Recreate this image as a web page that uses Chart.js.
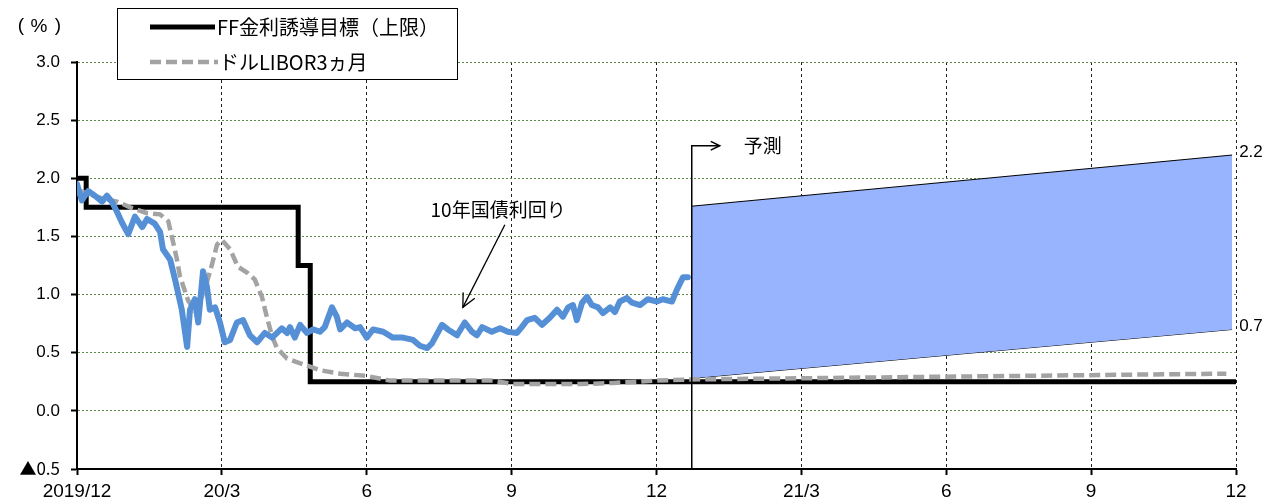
<!DOCTYPE html>
<html lang="ja">
<head>
  <meta charset="UTF-8">
  <title>米国金利の推移と予測</title>
  <script src="https://cdn.jsdelivr.net/npm/chart.js"></script>
  <style>
    body { margin: 0; background: #fff; }
    #rateChart { display: block; }
  </style>
</head>
<body>
  <canvas id="rateChart" width="1279" height="502"></canvas>
  <script>
    // 横軸は 2019/12 からの経過月数（0〜24）
    const xTickLabels = ['2019/12', '20/3', '6', '9', '12', '21/3', '6', '9', '12'];

    // 10年国債利回り
    const yieldMonth = [0.00, 0.10, 0.23, 0.37, 0.52, 0.62, 0.72, 0.83, 0.93, 1.06, 1.20, 1.35, 1.45, 1.61, 1.72,
      1.78, 1.93, 2.03, 2.09, 2.17, 2.28, 2.34, 2.44, 2.51, 2.61, 2.69, 2.75, 2.86, 2.96, 3.06, 3.17, 3.31,
      3.44, 3.58, 3.73, 3.89, 4.04, 4.24, 4.35, 4.41, 4.51, 4.62, 4.76, 4.89, 5.03, 5.13, 5.28, 5.38, 5.45,
      5.59, 5.76, 5.86, 6.00, 6.13, 6.34, 6.54, 6.75, 6.96, 7.10, 7.25, 7.35, 7.56, 7.68, 7.87, 8.03, 8.18,
      8.28, 8.39, 8.59, 8.76, 8.92, 9.11, 9.21, 9.32, 9.48, 9.63, 9.79, 9.94, 10.06, 10.17, 10.27, 10.35,
      10.46, 10.56, 10.66, 10.79, 10.89, 11.04, 11.14, 11.24, 11.39, 11.49, 11.66, 11.82, 12.01, 12.13,
      12.32, 12.42, 12.55, 12.65];
    const yieldRate = [1.95, 1.81, 1.89, 1.85, 1.80, 1.85, 1.80, 1.71, 1.62, 1.52, 1.67, 1.58, 1.65, 1.61, 1.54,
      1.39, 1.30, 1.13, 1.02, 0.87, 0.55, 0.87, 0.96, 0.76, 1.20, 1.07, 0.87, 0.89, 0.76, 0.59, 0.61, 0.76,
      0.78, 0.65, 0.59, 0.67, 0.63, 0.71, 0.67, 0.72, 0.63, 0.74, 0.67, 0.70, 0.68, 0.72, 0.89, 0.81, 0.70,
      0.76, 0.71, 0.72, 0.63, 0.70, 0.68, 0.63, 0.63, 0.61, 0.56, 0.54, 0.58, 0.74, 0.70, 0.65, 0.76, 0.68,
      0.65, 0.72, 0.68, 0.71, 0.68, 0.67, 0.72, 0.78, 0.80, 0.74, 0.80, 0.87, 0.81, 0.89, 0.91, 0.78,
      0.93, 0.98, 0.91, 0.89, 0.84, 0.89, 0.85, 0.94, 0.97, 0.93, 0.91, 0.96, 0.94, 0.96,
      0.94, 1.04, 1.15, 1.15];

    // ドルLIBOR3ヵ月（最後の点は予測）
    const liborMonth = [0, 0.27, 0.58, 0.83, 1.10, 1.45, 1.72, 1.89, 1.99, 2.07, 2.13, 2.30, 2.46, 2.65, 2.79,
      2.90, 3.00, 3.17, 3.33, 3.52, 3.68, 3.83, 3.93, 4.04, 4.14, 4.35, 4.55, 5.03, 5.45, 6.00, 6.48, 7.10,
      7.66, 8.61, 9.03, 9.73, 10.41, 11.10, 12.01, 12.69, 23.80];
    const liborRate = [1.90, 1.86, 1.82, 1.80, 1.75, 1.70, 1.69, 1.63, 1.45, 1.30, 1.16, 0.95, 0.85, 1.05, 1.25,
      1.43, 1.47, 1.39, 1.24, 1.19, 1.13, 0.98, 0.81, 0.64, 0.54, 0.45, 0.42, 0.35, 0.32, 0.30, 0.26, 0.26,
      0.26, 0.26, 0.23, 0.23, 0.23, 0.24, 0.26, 0.27, 0.32];

    // FF金利誘導目標（上限）: 変更時点とその水準
    const ffMonth = [0, 0.19, 4.58, 4.83, 24];
    const ffRate = [2.00, 1.75, 1.25, 0.25, 0.25];

    // 10年国債利回りの予測レンジ
    const bandMonth = [12.73, 23.92];
    const bandHigh = [1.76, 2.2];
    const bandLow = [0.28, 0.7];

    const forecastStart = 12.73;
    const forecastArrowLevel = 2.28;

    const toPoints = (xs, ys) => xs.map((v, i) => ({ x: v, y: ys[i] }));

    const blue = '#5590d6';
    const gray = '#a3a3a3';
    const jpFont = '"Noto Sans CJK JP", sans-serif';
    const numFont = '"Liberation Sans", Arial, sans-serif';

    function arrowHead(ctx, x1, y1, x2, y2, len) {
      const a = Math.atan2(y2 - y1, x2 - x1);
      ctx.beginPath();
      ctx.moveTo(x2 - len * Math.cos(a - 0.45), y2 - len * Math.sin(a - 0.45));
      ctx.lineTo(x2, y2);
      ctx.lineTo(x2 - len * Math.cos(a + 0.45), y2 - len * Math.sin(a + 0.45));
      ctx.stroke();
    }

    // 予測の矢印、系列名、レンジ端の値、凡例
    const overlay = {
      id: 'overlay',
      afterDatasetsDraw(chart) {
        const { ctx, chartArea } = chart;
        const x = chart.scales.x, y = chart.scales.y;
        ctx.save();
        ctx.strokeStyle = '#000';
        ctx.fillStyle = '#000';

        // 予測開始線
        const fx = x.getPixelForValue(forecastStart);
        const fy = y.getPixelForValue(forecastArrowLevel);
        ctx.lineWidth = 1.5;
        ctx.beginPath();
        ctx.moveTo(fx, chartArea.bottom);
        ctx.lineTo(fx, fy);
        ctx.lineTo(fx + 28, fy);
        ctx.stroke();
        arrowHead(ctx, fx, fy, fx + 28, fy, 10);
        ctx.font = '19px ' + jpFont;
        ctx.textBaseline = 'middle';
        ctx.textAlign = 'left';
        ctx.fillText('予測', fx + 52, fy);

        // 10年国債利回りのラベルと矢印
        ctx.textAlign = 'center';
        ctx.fillText('10年国債利回り', x.getPixelForValue(8.72), y.getPixelForValue(1.73));
        const ax1 = x.getPixelForValue(8.86), ay1 = y.getPixelForValue(1.60);
        const ax2 = x.getPixelForValue(7.99), ay2 = y.getPixelForValue(0.89);
        ctx.lineWidth = 1.3;
        ctx.beginPath();
        ctx.moveTo(ax1, ay1);
        ctx.lineTo(ax2, ay2);
        ctx.stroke();
        arrowHead(ctx, ax1, ay1, ax2, ay2, 15);

        // レンジ右端の値
        const last = bandMonth.length - 1;
        const bx = x.getPixelForValue(bandMonth[last]) + 7;
        ctx.textAlign = 'left';
        ctx.font = '17px ' + numFont;
        ctx.fillText(bandHigh[last].toFixed(1), bx, y.getPixelForValue(bandHigh[last]) - 3);
        ctx.fillText(bandLow[last].toFixed(1), bx, y.getPixelForValue(bandLow[last]) - 3);
        ctx.restore();
      },
      afterDraw(chart) {
        const { ctx } = chart;
        ctx.save();
        ctx.fillStyle = '#000';
        ctx.textBaseline = 'middle';
        ctx.textAlign = 'center';
        // 単位 (%)
        ctx.font = '19px ' + numFont;
        ctx.fillText('(', 21, 26);
        ctx.fillText('%', 39, 27);
        ctx.fillText(')', 58, 26);

        // 凡例
        ctx.fillStyle = '#fff';
        ctx.fillRect(117, 8, 340, 71);
        ctx.strokeStyle = '#000';
        ctx.lineWidth = 1;
        ctx.strokeRect(117.5, 8.5, 340, 71);

        const ff = chart.data.datasets[2];
        const lb = chart.data.datasets[1];
        ctx.lineWidth = ff.borderWidth;
        ctx.strokeStyle = ff.borderColor;
        ctx.beginPath(); ctx.moveTo(150, 27); ctx.lineTo(215, 27); ctx.stroke();
        ctx.lineWidth = lb.borderWidth;
        ctx.strokeStyle = lb.borderColor;
        ctx.setLineDash(lb.borderDash);
        ctx.beginPath(); ctx.moveTo(150, 62); ctx.lineTo(218, 62); ctx.stroke();
        ctx.setLineDash([]);

        ctx.fillStyle = '#000';
        ctx.textAlign = 'left';
        ctx.font = '20px ' + jpFont;
        ctx.fillText(ff.label, 217, 27);
        ctx.fillText(lb.label, 219, 62);
        ctx.restore();
      }
    };

    new Chart(document.getElementById('rateChart'), {
      type: 'line',
      data: {
        datasets: [
          {
            label: '10年国債利回り',
            data: toPoints(yieldMonth, yieldRate),
            borderColor: blue,
            borderWidth: 6,
            borderJoinStyle: 'round',
            borderCapStyle: 'round',
            pointRadius: 0,
            fill: false,
            order: 0
          },
          {
            label: 'ドルLIBOR3ヵ月',
            data: toPoints(liborMonth, liborRate),
            borderColor: gray,
            borderWidth: 4.5,
            borderDash: [11, 5],
            pointRadius: 0,
            fill: false,
            order: 1
          },
          {
            label: 'FF金利誘導目標（上限）',
            data: toPoints(ffMonth, ffRate),
            borderColor: '#000',
            borderWidth: 5,
            stepped: 'before',
            pointRadius: 0,
            fill: false,
            order: 2
          },
          {
            label: '予測上限',
            data: toPoints(bandMonth, bandHigh),
            borderColor: '#000',
            borderWidth: 1,
            backgroundColor: '#98b4ff',
            pointRadius: 0,
            fill: '+1',
            order: 3
          },
          {
            label: '予測下限',
            data: toPoints(bandMonth, bandLow),
            borderColor: '#000',
            borderWidth: 1,
            pointRadius: 0,
            fill: false,
            order: 4
          }
        ]
      },
      options: {
        responsive: false,
        animation: false,
        devicePixelRatio: 1,
        layout: { padding: { top: 62, right: 43, left: 0, bottom: 0 } },
        plugins: {
          legend: { display: false },
          tooltip: { enabled: false }
        },
        scales: {
          x: {
            type: 'linear',
            min: 0,
            max: 24,
            afterFit: s => { s.height = 33; },
            ticks: {
              stepSize: 3,
              color: '#000',
              padding: 5,
              maxRotation: 0,
              font: { family: numFont, size: 19 },
              callback: v => xTickLabels[Math.round(v / 3)]
            },
            grid: {
              color: '#222',
              lineWidth: 1,
              tickLength: 6,
              tickColor: '#000',
              tickWidth: 2
            },
            border: { display: true, color: '#000', width: 2, dash: [3, 3] }
          },
          y: {
            min: -0.5,
            max: 3.0,
            afterFit: s => { s.width = 77; },
            ticks: {
              stepSize: 0.5,
              color: '#000',
              padding: 11,
              // 負の目盛は▲を大きく見せるため和文フォントで描く
              font: c => ({ family: c.tick && c.tick.value < 0 ? jpFont : numFont, size: 17 }),
              callback: v => (v < 0 ? '▲' + Math.abs(v).toFixed(1) : v.toFixed(1))
            },
            grid: {
              color: '#5b8c48',
              lineWidth: 1,
              tickLength: 6,
              tickColor: '#000',
              tickWidth: 2
            },
            border: { display: true, color: '#000', width: 2, dash: [2, 2] }
          }
        }
      },
      plugins: [overlay]
    });
  </script>
</body>
</html>
